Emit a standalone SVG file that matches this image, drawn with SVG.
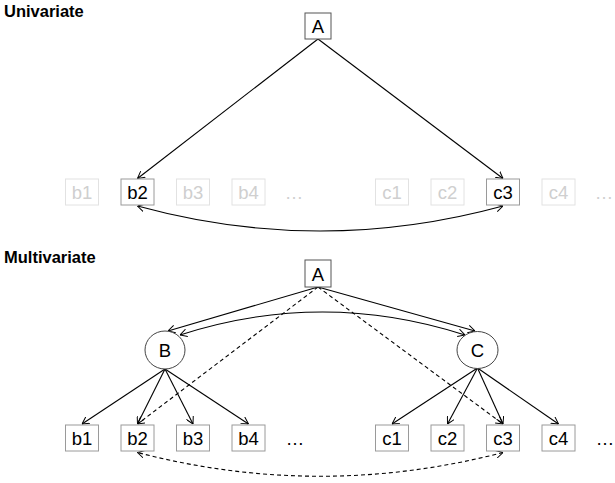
<svg xmlns="http://www.w3.org/2000/svg" width="615" height="483" viewBox="0 0 615 483">
<style>
.title{font-family:"Liberation Sans",Arial,sans-serif;font-weight:bold;font-size:16.5px;fill:#000}
.lbl{font-family:"Liberation Sans",Arial,sans-serif;font-size:18.5px;text-anchor:middle;fill:#000}
.dim{fill:#cfcfcf}
.box{fill:#fff;stroke:#9a9a9a;stroke-width:1}
.boxdim{fill:#fff;stroke:#e2e2e2;stroke-width:1}
.boxA{fill:#fff;stroke:#555;stroke-width:1}
.lat{fill:#fff;stroke:#444;stroke-width:1}
.edge{fill:none;stroke:#000;stroke-width:1.1}
.dash{stroke-dasharray:4,3}
</style>
<defs>
<marker id="ah" viewBox="0 0 10 12" refX="10" refY="6" markerWidth="7" markerHeight="8.4" markerUnits="userSpaceOnUse" orient="auto-start-reverse">
<path d="M0,0.5 L10,6 L0,11.5" fill="none" stroke="#000" stroke-width="1.4"/>
</marker>
</defs>

<text class="title" x="4" y="17">Univariate</text>
<text class="title" x="4" y="263">Multivariate</text>

<g id="connectors">
<!-- univariate -->
<path class="edge" d="M318,39 L137.5,178.5" marker-end="url(#ah)"/>
<path class="edge" d="M318,39 L503,178.5" marker-end="url(#ah)"/>
<path class="edge" d="M503,206 Q320,256 137.5,206" marker-start="url(#ah)" marker-end="url(#ah)"/>
<!-- multivariate -->
<path class="edge" d="M318,287 L168,331" marker-end="url(#ah)"/>
<path class="edge" d="M318,287 L475,331" marker-end="url(#ah)"/>
<path class="edge" d="M180,335 Q322.5,289 465,335" marker-start="url(#ah)" marker-end="url(#ah)"/>
<path class="edge dash" d="M318,287 L137.5,424" marker-end="url(#ah)"/>
<path class="edge dash" d="M318,287 L503,424" marker-end="url(#ah)"/>
<path class="edge" d="M165,369 L82,424" marker-end="url(#ah)"/>
<path class="edge" d="M165,369 L137.5,424" marker-end="url(#ah)"/>
<path class="edge" d="M165,369 L193,424" marker-end="url(#ah)"/>
<path class="edge" d="M165,369 L248.5,424" marker-end="url(#ah)"/>
<path class="edge" d="M477.5,368 L392,424" marker-end="url(#ah)"/>
<path class="edge" d="M477.5,368 L447.5,424" marker-end="url(#ah)"/>
<path class="edge" d="M477.5,368 L503,424" marker-end="url(#ah)"/>
<path class="edge" d="M477.5,368 L558.5,424" marker-end="url(#ah)"/>
<path class="edge dash" d="M503,452.5 Q320,500 137.5,452.5" marker-start="url(#ah)" marker-end="url(#ah)"/>
</g>

<!-- univariate nodes -->
<g id="uA"><rect class="boxA" x="305" y="13" width="26" height="26"/><text class="lbl" x="318" y="32.5">A</text></g>
<g id="ub1"><rect class="boxdim" x="65.5" y="179" width="33" height="26"/><text class="lbl dim" x="82" y="198.5">b1</text></g>
<g id="ub2"><rect class="box" x="121" y="179" width="33" height="26"/><text class="lbl" x="137.5" y="198.5">b2</text></g>
<g id="ub3"><rect class="boxdim" x="176.5" y="179" width="33" height="26"/><text class="lbl dim" x="193" y="198.5">b3</text></g>
<g id="ub4"><rect class="boxdim" x="232" y="179" width="33" height="26"/><text class="lbl dim" x="248.5" y="198.5">b4</text></g>
<g id="ubdots"><text class="lbl dim" x="294" y="198.5">…</text></g>
<g id="uc1"><rect class="boxdim" x="375.5" y="179" width="33" height="26"/><text class="lbl dim" x="392" y="198.5">c1</text></g>
<g id="uc2"><rect class="boxdim" x="431" y="179" width="33" height="26"/><text class="lbl dim" x="447.5" y="198.5">c2</text></g>
<g id="uc3"><rect class="box" x="486.5" y="179" width="33" height="26"/><text class="lbl" x="503" y="198.5">c3</text></g>
<g id="uc4"><rect class="boxdim" x="542" y="179" width="33" height="26"/><text class="lbl dim" x="558.5" y="198.5">c4</text></g>
<g id="ucdots"><text class="lbl dim" x="604" y="198.5">…</text></g>

<!-- multivariate nodes -->
<g id="mA"><rect class="boxA" x="305" y="260" width="26" height="27"/><text class="lbl" x="318" y="280.5">A</text></g>
<g id="mB"><ellipse class="lat" cx="165" cy="350" rx="20" ry="19"/><text class="lbl" x="165" y="357">B</text></g>
<g id="mC"><ellipse class="lat" cx="477.5" cy="350" rx="20.5" ry="18.5"/><text class="lbl" x="477.5" y="357">C</text></g>
<g id="mb1"><rect class="box" x="65.5" y="425" width="33" height="26"/><text class="lbl" x="82" y="444.5">b1</text></g>
<g id="mb2"><rect class="box" x="121" y="425" width="33" height="26"/><text class="lbl" x="137.5" y="444.5">b2</text></g>
<g id="mb3"><rect class="box" x="176.5" y="425" width="33" height="26"/><text class="lbl" x="193" y="444.5">b3</text></g>
<g id="mb4"><rect class="box" x="232" y="425" width="33" height="26"/><text class="lbl" x="248.5" y="444.5">b4</text></g>
<g id="mbdots"><text class="lbl" x="295" y="444.5">…</text></g>
<g id="mc1"><rect class="box" x="375.5" y="425" width="33" height="26"/><text class="lbl" x="392" y="444.5">c1</text></g>
<g id="mc2"><rect class="box" x="431" y="425" width="33" height="26"/><text class="lbl" x="447.5" y="444.5">c2</text></g>
<g id="mc3"><rect class="box" x="486.5" y="425" width="33" height="26"/><text class="lbl" x="503" y="444.5">c3</text></g>
<g id="mc4"><rect class="box" x="542" y="425" width="33" height="26"/><text class="lbl" x="558.5" y="444.5">c4</text></g>
<g id="mcdots"><text class="lbl" x="605" y="444.5">…</text></g>
</svg>
